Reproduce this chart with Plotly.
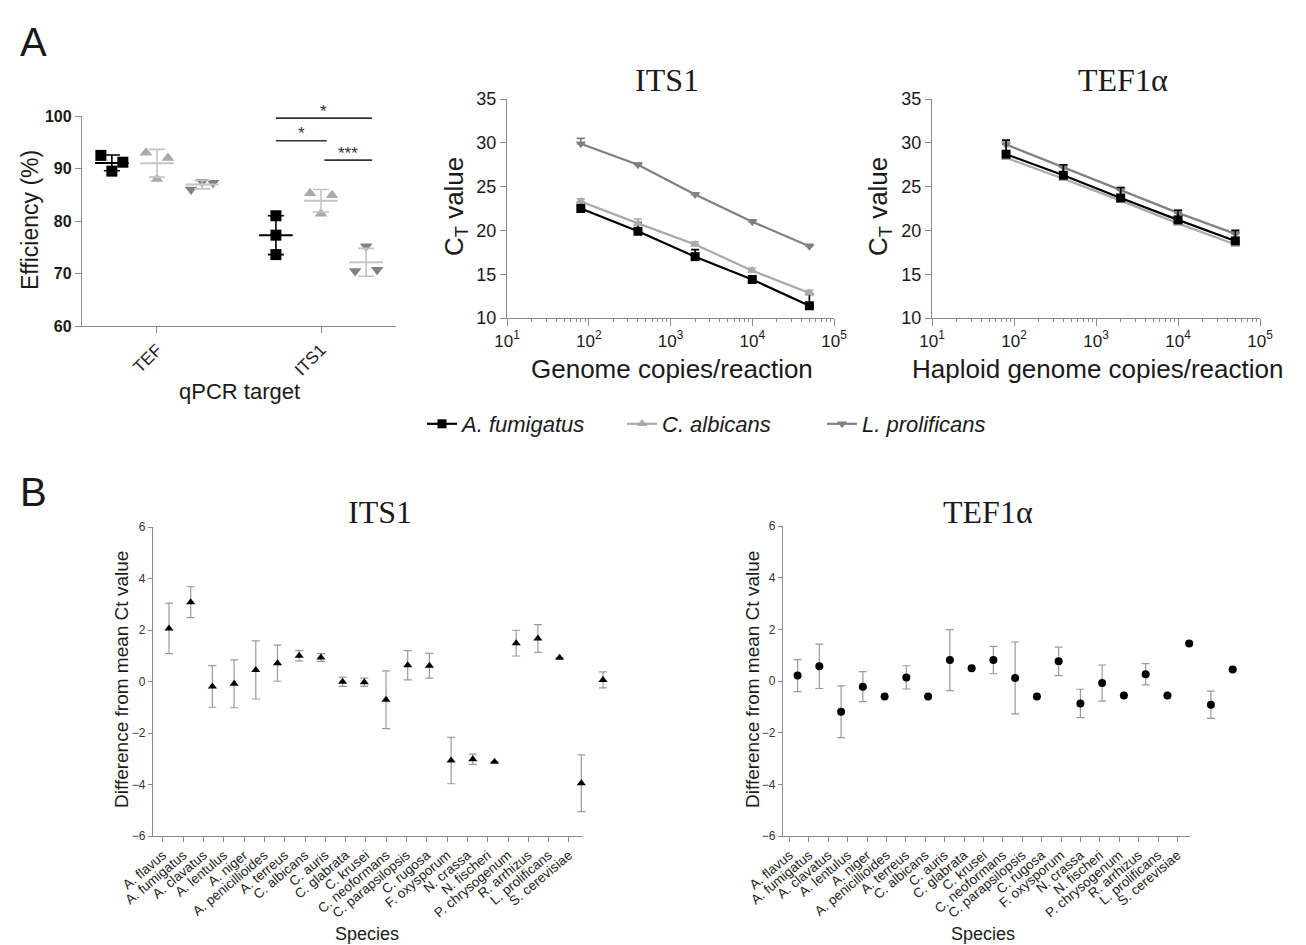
import numpy as np
import plotly.graph_objects as go

# ---------------- data ----------------
eff_targets = ["TEF", "ITS1"]
eff_afum = [[92.5, 89.5, 91.2], [81.0, 77.3, 73.6]]
eff_calb = [[93.0, 88.0, 92.0], [85.3, 81.4, 84.9]]
eff_lprol = [[86.0, 87.5, 87.3], [70.5, 75.2, 70.7]]

copies = [80, 400, 2000, 10000, 50000]
its1_afum = [22.5, 19.9, 17.0, 14.4, 11.4]
its1_afum_sd = [0.7, 1.0, 0.8, 0.4, 1.3]
its1_calb = [23.3, 20.8, 18.4, 15.4, 12.85]
its1_calb_sd = [0.3, 0.5, 0.3, 0.3, 0.3]
its1_lprol = [29.9, 27.5, 24.1, 21.0, 18.2]
its1_lprol_sd = [0.6, 0.2, 0.2, 0.2, 0.2]

tef_afum = [28.7, 26.3, 23.7, 21.2, 18.8]
tef_afum_sd = [1.6, 1.2, 1.2, 1.1, 1.2]
tef_calb = [28.3, 25.9, 23.4, 20.8, 18.4]
tef_calb_sd = [0.3, 0.3, 0.3, 0.3, 0.3]
tef_lprol = [29.8, 27.2, 24.6, 22.0, 19.6]
tef_lprol_sd = [0.4, 0.3, 0.3, 0.3, 0.3]

species = ["A. flavus", "A. fumigatus", "A. clavatus", "A. lentulus", "A. niger",
           "A. penicillioides", "A. terreus", "C. albicans", "C. auris", "C. glabrata",
           "C. krusei", "C. neoformans", "C. parapsilopsis", "C. rugosa", "F. oxysporum",
           "N. crassa", "N. fischeri", "P. chrysogenum", "R. arrhizus", "L. prolificans",
           "S. cerevisiae"]
its1_diff = [2.06, 3.08, -0.19, -0.09, 0.45, 0.71, 1.0, 0.93, -0.01, -0.03, -0.71,
             0.63, 0.61, -3.07, -3.02, -3.12, 1.49, 1.67, 0.92, -3.95, 0.06]
its1_sd = [0.98, 0.6, 0.81, 0.93, 1.13, 0.7, 0.2, 0.15, 0.18, 0.16, 1.12,
           0.57, 0.48, 0.9, 0.2, 0.0, 0.5, 0.54, 0.0, 1.1, 0.31]
tef_diff = [0.21, 0.57, -1.19, -0.22, -0.6, 0.14, -0.6, 0.81, 0.49, 0.81, 0.12,
            -0.6, 0.76, -0.87, -0.08, -0.56, 0.26, -0.56, 1.45, -0.92, 0.45]
tef_sd = [0.62, 0.86, 1.0, 0.58, 0.0, 0.45, 0.0, 1.18, 0.0, 0.53, 1.39,
          0.0, 0.55, 0.55, 0.7, 0.0, 0.41, 0.0, 0.0, 0.53, 0.0]

sig_pairs = [("A. fumigatus", "L. prolificans", "*"),
             ("A. fumigatus", "C. albicans", "*"),
             ("C. albicans", "L. prolificans", "***")]
sig_levels = [99.6, 95.3, 91.6]

# ---------------- style / layout helpers ----------------
W, H = 1306, 945
def fx(p): return p / W
def fy(p): return 1 - p / H

SANS = "Liberation Sans, Arial, sans-serif"
SERIF = "Liberation Serif, Times New Roman, serif"
AXC = "#8a8a8a"
TXT = "#1a1a1a"

EFF_Y = (60, 100)
EFF_DOM = (fy(326), fy(116))
def eff_paper_y(v):
    return EFF_DOM[0] + (v - EFF_Y[0]) / (EFF_Y[1] - EFF_Y[0]) * (EFF_DOM[1] - EFF_DOM[0])

sp_style = {
    "A. fumigatus": dict(symbol="square", color="#000000", bar="#000000", off=-0.275),
    "C. albicans": dict(symbol="triangle-up", color="#a9a9a9", bar="#c4c4c4", off=0.0),
    "L. prolificans": dict(symbol="triangle-down", color="#808080", bar="#c4c4c4", off=0.275),
}
jit = {("A. fumigatus", 1): [0, 0, 0]}
jit_default = [-0.067, 0.0, 0.067]

fig = go.Figure()

# ---------- Panel A: efficiency ----------
eff_data = {"A. fumigatus": eff_afum, "C. albicans": eff_calb, "L. prolificans": eff_lprol}
for name, vals in eff_data.items():
    st = sp_style[name]
    for ti, tv in enumerate(vals):
        jj = jit.get((name, ti), jit_default)
        xs = [ti + st["off"] + j for j in jj]
        fig.add_trace(go.Scatter(x=xs, y=tv, mode="markers", xaxis="x", yaxis="y",
                                 marker=dict(symbol=st["symbol"], size=11, color=st["color"]),
                                 showlegend=False, hoverinfo="skip"))
        m = float(np.mean(tv)); s = float(np.std(tv, ddof=1))
        fig.add_trace(go.Scatter(x=[ti + st["off"]], y=[m], mode="markers", xaxis="x", yaxis="y",
                                 marker=dict(symbol="line-ew", size=24, color=st["bar"],
                                             line=dict(width=2, color=st["bar"])),
                                 error_y=dict(type="data", array=[s], color=st["bar"],
                                              thickness=1.6, width=8),
                                 showlegend=False, hoverinfo="skip"))

shapes = []
annotations = []
its1_idx = eff_targets.index("ITS1")
for (a, b, lab), lvl in zip(sig_pairs, sig_levels):
    x0 = its1_idx + sp_style[a]["off"]
    x1 = its1_idx + sp_style[b]["off"] + 0.035
    if a == "C. albicans":
        x0 += 0.02
    shapes.append(dict(type="line", xref="x", yref="y", x0=x0, x1=x1, y0=lvl, y1=lvl,
                       line=dict(color="#333333", width=1.6)))
    annotations.append(dict(x=(x0 + x1) / 2, y=eff_paper_y(lvl + 1.3), xref="x", yref="paper",
                            text=lab, showarrow=False,
                            font=dict(size=17, color="#333333", family=SANS),
                            xanchor="center", yanchor="middle"))

# ---------- Panel A: standard curves ----------
curves = [
    ("x2", "y2", [("A. fumigatus", its1_afum, its1_afum_sd),
                  ("C. albicans", its1_calb, its1_calb_sd),
                  ("L. prolificans", its1_lprol, its1_lprol_sd)], True),
    ("x3", "y3", [("L. prolificans", tef_lprol, tef_lprol_sd),
                  ("C. albicans", tef_calb, tef_calb_sd),
                  ("A. fumigatus", tef_afum, tef_afum_sd)], False),
]
line_col = {"A. fumigatus": "#000000", "C. albicans": "#a9a9a9", "L. prolificans": "#808080"}
legend_rank = {"A. fumigatus": 1, "C. albicans": 2, "L. prolificans": 3}
for xa, ya, series, leg in curves:
    for name, vals, sd in series:
        c = line_col[name]
        fig.add_trace(go.Scatter(
            x=copies, y=vals, mode="lines+markers", xaxis=xa, yaxis=ya,
            name=name, showlegend=leg, legendrank=legend_rank[name],
            line=dict(color=c, width=2.2),
            marker=dict(symbol=sp_style[name]["symbol"], size=9, color=c),
            error_y=dict(type="data", array=sd, arrayminus=[0] * len(sd), symmetric=False,
                         color=c, thickness=1.6, width=4),
            hoverinfo="skip"))

# ---------- Panel B ----------
dummy = dict(mode="markers", marker=dict(opacity=0), showlegend=False, hoverinfo="skip")
fig.add_trace(go.Scatter(x=[0], y=[0], xaxis="x4", yaxis="y4", **dummy))
fig.add_trace(go.Scatter(x=[0], y=[0], xaxis="x6", yaxis="y6", **dummy))

idx = list(range(len(species)))
fig.add_trace(go.Scatter(x=idx, y=its1_diff, mode="markers", xaxis="x5", yaxis="y4",
                         marker=dict(symbol="triangle-up", size=8, color="#000000"),
                         error_y=dict(type="data", array=its1_sd, color="#9a9a9a",
                                      thickness=1.2, width=4),
                         showlegend=False, hoverinfo="skip"))
fig.add_trace(go.Scatter(x=idx, y=tef_diff, mode="markers", xaxis="x7", yaxis="y6",
                         marker=dict(symbol="circle", size=8, color="#000000"),
                         error_y=dict(type="data", array=tef_sd, color="#9a9a9a",
                                      thickness=1.2, width=4),
                         showlegend=False, hoverinfo="skip"))
for xa, ya in (("x5", "y4"), ("x7", "y6")):
    shapes.append(dict(type="line", xref="%s domain" % xa, yref=ya, x0=0, x1=1, y0=0, y1=0,
                       line=dict(color="#000000", width=2, dash="dot"), layer="below"))

# ---------------- layout ----------------
def lin_axis(**kw):
    base = dict(showline=True, linecolor=AXC, linewidth=1.3, ticks="outside", ticklen=5,
                tickcolor=AXC, tickwidth=1.2, showgrid=False, zeroline=False,
                automargin=False, tickfont=dict(family=SANS, color=TXT))
    base.update(kw)
    return base

minor_vals = [m * 10 ** e for e in range(1, 5) for m in range(2, 10)]
def log_axis(dom, anchor):
    return lin_axis(type="log", range=[1, 5], domain=dom, anchor=anchor,
                    tickvals=[10, 100, 1000, 10000, 100000],
                    ticktext=["10<sup>%d</sup>" % e for e in range(1, 6)],
                    tickfont=dict(family=SANS, size=17, color=TXT), ticklen=7,
                    minor=dict(tickmode="array", tickvals=minor_vals, ticks="outside",
                               ticklen=3, tickcolor=AXC))

def ct_axis(dom, anchor):
    return lin_axis(range=[10, 35], tickvals=[10, 15, 20, 25, 30, 35], domain=dom,
                    anchor=anchor, tickfont=dict(family=SANS, size=18, color=TXT), ticklen=6)

def b_yaxis(dom, anchor):
    return lin_axis(range=[-6, 6], tickvals=[-6, -4, -2, 0, 2, 4, 6], domain=dom,
                    anchor=anchor, tickfont=dict(family=SANS, size=12, color="#333333"),
                    ticklen=4)

def b_xaxis(dom, anchor, rng):
    return lin_axis(range=rng, domain=dom, anchor=anchor, tickvals=idx, ticktext=species,
                    tickangle=-40, ticklen=5,
                    tickfont=dict(family=SANS, size=13.5, color="#222222"))

hidden = dict(visible=False, showgrid=False, zeroline=False, automargin=False)

fig.update_layout(
    template="none",
    width=W, height=H, autosize=False,
    margin=dict(l=0, r=0, t=0, b=0, pad=0),
    paper_bgcolor="white", plot_bgcolor="white",
    font=dict(family=SANS, color=TXT),
    xaxis=lin_axis(domain=[fx(82), fx(396)], anchor="y", range=[-0.457, 1.457],
                   tickvals=[0, 1], ticktext=eff_targets, tickangle=-45, ticklen=6,
                   tickfont=dict(family=SANS, size=17, color=TXT)),
    yaxis=lin_axis(domain=list(EFF_DOM), anchor="x", range=list(EFF_Y),
                   tickvals=[60, 70, 80, 90, 100], ticklen=6,
                   tickfont=dict(family=SANS, size=16, color=TXT, weight="bold")),
    xaxis2=log_axis([fx(507), fx(834)], "y2"),
    yaxis2=ct_axis([fy(318), fy(99)], "x2"),
    xaxis3=log_axis([fx(932), fx(1260)], "y3"),
    yaxis3=ct_axis([fy(318), fy(99)], "x3"),
    xaxis4=b_xaxis([fx(153), fx(583)], "y4", [-0.49, 20.69]),
    yaxis4=b_yaxis([fy(836), fy(527)], "x4"),
    xaxis5=dict(domain=[fx(153), fx(617)], anchor="y4", range=[-0.737, 20.645], **hidden),
    xaxis6=b_xaxis([fx(783), fx(1190)], "y6", [-0.34, 20.65]),
    yaxis6=b_yaxis([fy(836), fy(526)], "x6"),
    xaxis7=dict(domain=[fx(783), fx(1244)], anchor="y6", range=[-0.67, 20.52], **hidden),
    legend=dict(orientation="h", x=fx(722), y=fy(424), xanchor="center", yanchor="middle",
                font=dict(family=SANS, size=22, color=TXT, style="italic"),
                bgcolor="rgba(0,0,0,0)", itemwidth=30, traceorder="normal",
                entrywidth=155, entrywidthmode="pixels"),
    shapes=shapes,
)

def txt(x, y, s, size, family=SANS, angle=0, **kw):
    annotations.append(dict(x=fx(x), y=fy(y), xref="paper", yref="paper", text=s,
                            showarrow=False, textangle=angle, xanchor="center",
                            yanchor="middle", font=dict(size=size, family=family, color=TXT),
                            **kw))

txt(33, 42, "A", 40)
txt(33, 492, "B", 40)
txt(30, 220, "Efficiency (%)", 23, angle=-90)
txt(239, 391, "qPCR target", 22)
txt(667, 80, "ITS1", 32, family=SERIF)
txt(1123, 80, "TEF1α", 32, family=SERIF)
txt(455, 207, "C<sub>T</sub> value", 26, angle=-90)
txt(879, 207, "C<sub>T</sub> value", 26, angle=-90)
txt(672, 369, "Genome copies/reaction", 26)
txt(1097, 369, "Haploid genome copies/reaction", 26)
txt(380, 512, "ITS1", 32, family=SERIF)
txt(988, 512, "TEF1α", 32, family=SERIF)
txt(121, 680, "Difference from mean Ct value", 19, angle=-90)
txt(752, 680, "Difference from mean Ct value", 19, angle=-90)
txt(367, 934, "Species", 18)
txt(983, 934, "Species", 18)

fig.update_layout(annotations=annotations)
fig.write_html("out.html")
